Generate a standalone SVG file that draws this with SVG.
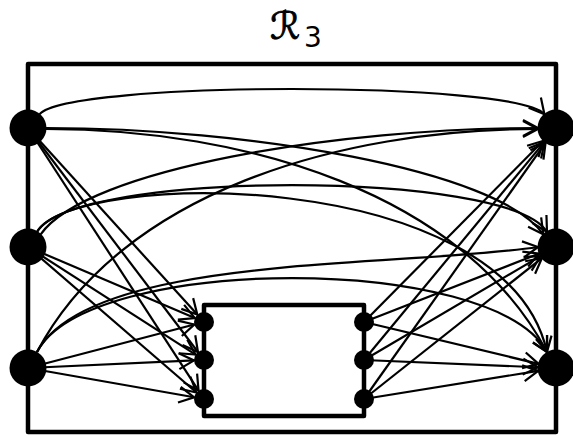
<svg xmlns="http://www.w3.org/2000/svg" width="573" height="438" viewBox="0 0 573 438">
<style>
.box{fill:none;stroke:#000;stroke-width:4.5;stroke-linejoin:round}
.e{fill:none;stroke:#000;stroke-width:2.2;marker-end:url(#arr)}
.n{fill:#000}
.t{font-family:"DejaVu Sans",sans-serif;fill:#000}
</style>
<defs>
<marker id="arr" markerUnits="userSpaceOnUse" viewBox="-1 -1 18 18" markerWidth="18" markerHeight="18" refX="15" refY="8" orient="auto" overflow="visible">
<path d="M0,0 L15,8 L0,16" fill="none" stroke="#000" stroke-width="2.2"/>
</marker>
</defs>
<text class="t" x="270" y="39" font-size="38" stroke="#000" stroke-width="0.8">ℛ</text>
<text class="t" x="304" y="47" font-size="28">3</text>
<g id="outer"><rect class="box" x="28" y="64" width="528" height="368"/></g>
<g id="inner"><rect class="box" x="204" y="305" width="160" height="111"/></g>
<g id="edges">
<path class="e" d="M39.6,114.2 C67.8,80.6 516.2,80.6 544.4,114.2"/>
<path class="e" d="M46,128 C246,128 497,169 543.3,234.3"/>
<path class="e" d="M46,129 C246,129 463,193 547,352"/>
<path class="e" d="M40.7,234.3 C87,169 338,128 538,128"/>
<path class="e" d="M37,232 C73,169.6 511,169.6 547,232"/>
<path class="e" d="M37,232 C73,169.6 505,165 547,352"/>
<path class="e" d="M37,352 C121,193 338,129 538,129"/>
<path class="e" d="M37,352 C89.4,253.4 400,268 538,247"/>
<path class="e" d="M37,352 C89.4,253.4 494.6,253.4 547,352"/>
<path class="e" d="M28,128 L197.3,314.6"/>
<path class="e" d="M28,128 L197.96,352.03"/>
<path class="e" d="M28,128 L198.55,390.61"/>
<path class="e" d="M28,247 L194.8,318.08"/>
<path class="e" d="M28,247 L195.59,354.6"/>
<path class="e" d="M28,247 L196.43,392.46"/>
<path class="e" d="M28,368 L194.33,324.53"/>
<path class="e" d="M28,368 L194.01,360.45"/>
<path class="e" d="M28,368 L194.15,397.27"/>
<path class="e" d="M364,322 L543.34,140.79"/>
<path class="e" d="M364,360 L544.52,141.87"/>
<path class="e" d="M364,399 L545.59,142.69"/>
<path class="e" d="M364,322 L539.23,253.55"/>
<path class="e" d="M364,360 L540.49,256.13"/>
<path class="e" d="M364,399 L541.89,258.17"/>
<path class="e" d="M364,322 L538.49,363.81"/>
<path class="e" d="M364,360 L538.02,367.25"/>
<path class="e" d="M364,399 L538.23,370.87"/>
</g>
<g id="L1"><circle class="n" cx="28" cy="128" r="18.5"/></g>
<g id="L2"><circle class="n" cx="28" cy="247" r="18.5"/></g>
<g id="L3"><circle class="n" cx="28" cy="368" r="18.5"/></g>
<g id="R1"><circle class="n" cx="556" cy="128" r="18.5"/></g>
<g id="R2"><circle class="n" cx="556" cy="247" r="18.5"/></g>
<g id="R3"><circle class="n" cx="556" cy="368" r="18.5"/></g>
<g id="I1"><circle class="n" cx="204" cy="322" r="10"/></g>
<g id="I2"><circle class="n" cx="204" cy="360" r="10"/></g>
<g id="I3"><circle class="n" cx="204" cy="399" r="10"/></g>
<g id="O1"><circle class="n" cx="364" cy="322" r="10"/></g>
<g id="O2"><circle class="n" cx="364" cy="360" r="10"/></g>
<g id="O3"><circle class="n" cx="364" cy="399" r="10"/></g>
</svg>
